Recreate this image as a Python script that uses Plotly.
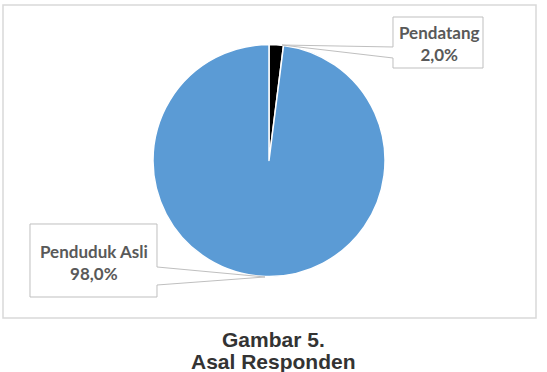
import plotly.graph_objects as go

W, H = 547, 372

labels = ["Pendatang", "Penduduk Asli"]
values = [2.0, 98.0]
colors = ["#000000", "#5B9BD5"]
caption = ["Gambar 5.", "Asal Responden"]


def px(x, y):
    return x / W, 1 - y / H


def path(points):
    s = ""
    for i, (x, y) in enumerate(points):
        X, Y = px(x, y)
        s += ("M" if i == 0 else "L") + f"{X:.5f},{Y:.5f} "
    return s + "Z"


cx, cy, r = 269, 160.5, 116
fig = go.Figure(go.Pie(
    labels=labels, values=values, sort=False, direction="clockwise", rotation=0,
    marker=dict(colors=colors, line=dict(color="white", width=1.5)),
    textinfo="none", hoverinfo="label+percent",
    domain=dict(x=[(cx - r) / W, (cx + r) / W], y=[1 - (cy + r) / H, 1 - (cy - r) / H]),
    showlegend=False,
))

shapes = [
    dict(type="rect", xref="paper", yref="paper",
         x0=px(3, 5)[0], y0=px(3, 5)[1], x1=px(536, 318)[0], y1=px(536, 318)[1],
         line=dict(color="#D9D9D9", width=1.5), fillcolor="rgba(0,0,0,0)", layer="below"),
    dict(type="path", xref="paper", yref="paper",
         path=path([(393, 47), (393, 17), (483, 17), (483, 68), (393, 68), (393, 58), (282, 45)]),
         line=dict(color="#BFBFBF", width=1), fillcolor="white"),
    dict(type="path", xref="paper", yref="paper",
         path=path([(157, 267), (157, 224), (30, 224), (30, 297), (157, 297), (157, 285), (265, 277)]),
         line=dict(color="#BFBFBF", width=1), fillcolor="white"),
]

lab_font = dict(family="Lato", size=17, color="#595959")
annotations = []
for (x, y), lab, v in [((439, 43), labels[0], values[0]), ((94, 262), labels[1], values[1])]:
    X, Y = px(x, y)
    annotations.append(dict(
        x=X, y=Y, xref="paper", yref="paper", showarrow=False,
        text=f"<b>{lab}</b><br><b>{v:.1f}%</b>".replace(".", ","),
        font=lab_font, align="center", xanchor="center", yanchor="middle"))

cap_font = dict(family="Liberation Sans, Arial", size=21, color="#333333")
for i, t in enumerate(caption):
    X, Y = px(273, 339 + 22 * i)
    annotations.append(dict(x=X, y=Y, xref="paper", yref="paper", showarrow=False,
                            text=f"<b>{t}</b>", font=cap_font, xanchor="center", yanchor="middle"))

fig.update_layout(
    width=W, height=H, margin=dict(l=0, r=0, t=0, b=0),
    paper_bgcolor="white", plot_bgcolor="white",
    shapes=shapes, annotations=annotations,
)

fig.write_html("out.html")
